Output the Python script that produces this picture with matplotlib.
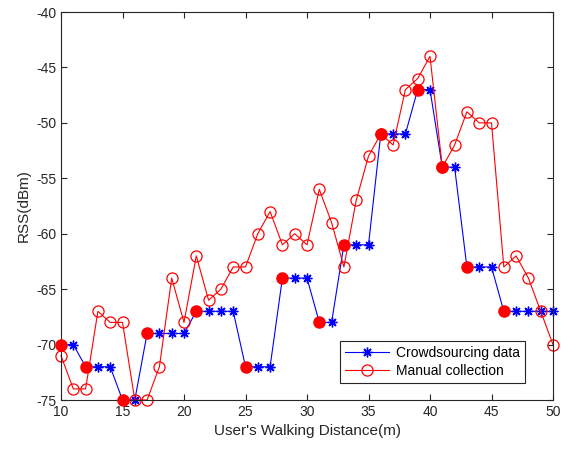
import numpy as np
import matplotlib.pyplot as plt

plt.rcParams['font.family'] = ['Liberation Sans', 'DejaVu Sans']
plt.rcParams['axes.unicode_minus'] = False

distance = list(range(10, 51))

crowd_rss = [-70, -70, -72, -72, -72, -75, -75, -69, -69, -69,
             -69, -67, -67, -67, -67, -72, -72, -72, -64, -64,
             -64, -68, -68, -61, -61, -61, -51, -51, -51, -47,
             -47, -54, -54, -63, -63, -63, -67, -67, -67, -67, -67]

manual_rss = [-71, -74, -74, -67, -68, -68, -75, -75, -72, -64,
              -68, -62, -66, -65, -63, -63, -60, -58, -61, -60,
              -61, -56, -59, -63, -57, -53, -51, -52, -47, -46,
              -44, -54, -52, -49, -50, -50, -63, -62, -64, -67, -70]

# points where crowdsourced value gets updated
update_x = [10, 12, 15, 17, 21, 25, 28, 31, 33, 36, 39, 41, 43, 46]
update_y = [crowd_rss[x - 10] for x in update_x]

fig = plt.figure(figsize=(5.61, 4.49), dpi=100)
ax = fig.add_axes([61/561, 49/449, 492/561, 388/449])

ax.plot(distance, crowd_rss, color='blue', marker=(8, 2, 0), markersize=7,
        markeredgewidth=1.0, linewidth=0.8, label='Crowdsourcing data',
        clip_on=False)
ax.plot(distance, manual_rss, color='red', marker='o', markersize=8,
        markerfacecolor='none', markeredgewidth=0.9, linewidth=0.8,
        label='Manual collection', clip_on=False)
ax.plot(update_x, update_y, 'o', color='red', markersize=8, zorder=5,
        clip_on=False)

ax.set_xlim(10, 50)
ax.set_ylim(-75, -40)
ax.set_xticks(range(10, 51, 5))
ax.set_yticks(range(-75, -39, 5))
ax.tick_params(direction='in', top=True, right=True, labelsize=10,
               colors='#262626', length=4)
for s in ax.spines.values():
    s.set_color('#262626')
ax.set_xlabel("User's Walking Distance(m)", fontsize=11, color='#262626')
ax.set_ylabel('RSS(dBm)', fontsize=11, color='#262626')

leg = ax.legend(loc='lower right', bbox_to_anchor=(0.943, 0.044),
                borderaxespad=0, fontsize=10, fancybox=False,
                edgecolor='#262626', framealpha=1, borderpad=0.35,
                handlelength=3.2, handletextpad=0.5, labelspacing=0.3)
leg.get_frame().set_linewidth(0.8)

fig.savefig('out.png', dpi=100)
